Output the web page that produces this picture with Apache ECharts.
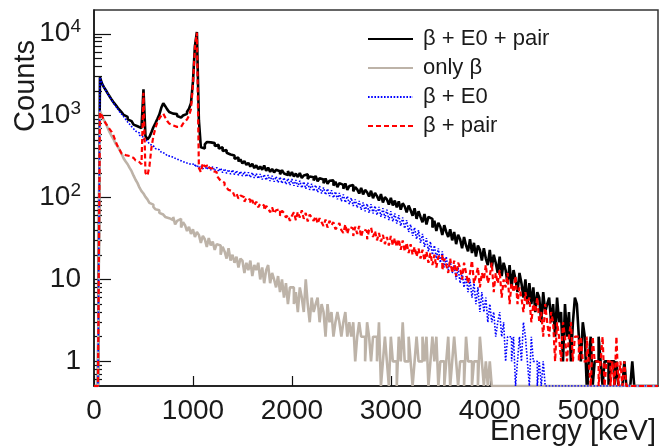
<!DOCTYPE html>
<html><head><meta charset="utf-8">
<script src="https://cdn.jsdelivr.net/npm/echarts@6/dist/echarts.min.js"></script>
<style>html,body{margin:0;padding:0;background:#fff}#c{width:668px;height:448px}</style>
</head><body><div id="c"></div>
<script>
// ---- data (20 keV bins, first bin starts at 0 keV) ----
const binWidth = 20;
const seriesNames = ['β + E0 + pair', 'only β', 'β + E0', 'β + pair'];
const xTickValues = [0, 1000, 2000, 3000, 4000, 5000];
const yTickValues = [1, 10, 100, 1000, 10000];

const countsBetaE0Pair = [
  0, 0, 0, 2950, 2480, 2230, 2040, 1860, 1700, 1560,
  1440, 1345, 1245, 1170, 1095, 1020, 965, 900, 858, 812,
  778, 742, 722, 704, 688, 2100, 566, 512, 548, 626,
  722, 806, 908, 1032, 1245, 1420, 1305, 1192, 1108, 1058,
  1022, 1046, 988, 948, 968, 1004, 1052, 1118, 1212, 1415,
  2600, 7100, 10500, 880, 410, 398, 446, 476, 472, 458,
  462, 425, 441, 396, 410, 369, 381, 352, 336, 330,
  326, 298, 309, 276, 292, 262, 278, 250, 266, 239,
  258, 229, 247, 222, 240, 218, 246, 212, 232, 206,
  224, 203, 218, 209, 192, 216, 197, 189, 211, 184,
  205, 181, 196, 178, 199, 173, 186, 192, 168, 181,
  177, 161, 184, 158, 172, 166, 150, 171, 147, 160,
  162, 140, 156, 134, 150, 143, 128, 149, 124, 138,
  142, 119, 134, 126, 112, 131, 109, 124, 116, 103,
  121, 98, 114, 104, 92, 110, 87, 101, 95, 82,
  99, 80, 92, 76, 90, 71, 85, 78, 66, 80,
  70, 60, 74, 55, 68, 58, 50, 63, 47, 58,
  55, 43, 52, 39, 49, 44, 35, 46, 38, 33,
  41, 30, 38, 27, 35, 31, 24, 33, 26, 22,
  31, 21, 28, 19, 26, 23, 17, 24, 18, 15,
  23, 14, 20, 16, 12, 19, 11, 16, 13, 9,
  15, 8, 13, 10, 7, 12, 9, 6, 10, 5,
  9, 5, 8, 4, 7, 6, 3, 7, 4, 5,
  6, 3, 5, 2, 6, 3, 4, 1, 5, 2,
  4, 1, 3, 6, 5, 2, 1, 3, 2, 0,
  1, 2, 0, 1, 1, 2, 1, 0, 1, 1,
  0, 1, 1, 0, 1, 0, 0, 0, 1, 0,
  0, 0, 1
];

const countsOnlyBeta = [
  0, 0, 0, 1150, 1000, 880, 800, 700, 620, 560,
  510, 450, 420, 380, 340, 300, 275, 255, 230, 210,
  185, 165, 150, 132, 120, 112, 102, 95, 86, 82,
  77, 72, 70, 65, 62, 63, 58, 56, 55, 53,
  58, 47, 52, 55, 43, 50, 46, 39, 44, 36,
  41, 33, 38, 35, 28, 34, 31, 25, 32, 26,
  29, 23, 27, 26, 20, 25, 22, 18, 24, 17,
  20, 16, 19, 14, 18, 17, 12, 16, 13, 17,
  11, 15, 13, 16, 10, 14, 9, 13, 15, 9,
  12, 10, 8, 11, 7, 10, 6, 9, 5, 8,
  8, 5, 7, 4, 8, 6, 4, 10, 5, 3,
  6, 4, 5, 6, 3, 5, 4, 2, 5, 3,
  4, 2, 3, 4, 3, 2, 3, 4, 2, 3,
  2, 3, 1, 2, 3, 2, 2, 1, 3, 2,
  1, 2, 2, 1, 3, 0, 1, 2, 1, 0,
  2, 1, 1, 0, 2, 1, 3, 1, 1, 2,
  1, 0, 1, 2, 1, 1, 2, 1, 2, 0,
  1, 2, 1, 2, 0, 1, 1, 0, 1, 2,
  0, 1, 2, 1, 0, 1, 1, 0, 2, 1,
  1, 0, 1, 1, 0, 2, 1, 0, 1, 0,
  1
];

const countsBetaE0 = [
  0, 0, 0, 2950, 2480, 2230, 2030, 1840, 1680, 1540,
  1410, 1300, 1205, 1110, 1040, 972, 902, 838, 786, 734,
  692, 648, 614, 576, 547, 514, 492, 466, 450, 428,
  414, 396, 384, 368, 358, 344, 338, 324, 319, 306,
  302, 292, 288, 278, 275, 266, 264, 255, 254, 247,
  258, 236, 251, 229, 246, 224, 247, 220, 240, 217,
  239, 212, 233, 208, 229, 201, 225, 197, 220, 193,
  218, 190, 213, 187, 209, 183, 207, 179, 203, 176,
  202, 173, 197, 170, 194, 166, 191, 163, 188, 159,
  185, 156, 181, 152, 178, 149, 175, 145, 171, 142,
  168, 139, 164, 135, 160, 131, 156, 128, 152, 124,
  147, 120, 142, 116, 138, 112, 133, 108, 128, 104,
  123, 99, 118, 95, 114, 90, 109, 87, 104, 83,
  99, 79, 95, 75, 91, 71, 87, 68, 84, 65,
  83, 64, 79, 61, 77, 58, 74, 56, 71, 53,
  68, 51, 64, 48, 61, 45, 57, 42, 53, 38,
  47, 34, 43, 31, 40, 28, 36, 25, 32, 22,
  29, 20, 26, 18, 24, 16, 22, 14, 19, 13,
  17, 12, 15, 10, 14, 9, 12, 8, 11, 7,
  10, 6, 9, 5, 8, 4, 7, 4, 6, 3,
  5, 3, 4, 2, 3, 4, 2, 3, 1, 2,
  2, 1, 2, 0, 1, 2, 1, 3, 2, 1,
  0, 2, 1, 1, 0, 1, 0, 1
];

const countsBetaPair = [
  0, 0, 0, 1100, 1000, 880, 800, 740, 680, 630,
  560, 480, 420, 380, 342, 330, 318, 322, 310, 305,
  296, 284, 270, 262, 255, 1900, 200, 185, 240, 400,
  560, 700, 830, 920, 1000, 1060, 950, 860, 800, 760,
  740, 730, 720, 730, 760, 800, 850, 900, 1000, 1200,
  2400, 6800, 10300, 230, 205, 262, 240, 250, 232, 225,
  210, 205, 185, 172, 160, 152, 140, 132, 124, 120,
  122, 104, 112, 97, 106, 101, 89, 99, 94, 85,
  93, 80, 89, 76, 84, 80, 70, 79, 74, 66,
  76, 64, 70, 72, 60, 69, 65, 57, 61, 52,
  60, 66, 53, 67, 57, 70, 55, 65, 51, 62,
  57, 52, 59, 48, 56, 50, 45, 54, 43, 52,
  46, 50, 41, 44, 49, 40, 37, 47, 36, 44,
  42, 34, 44, 36, 45, 33, 41, 39, 31, 40,
  43, 33, 39, 30, 37, 29, 35, 27, 33, 26,
  34, 26, 32, 25, 31, 23, 30, 22, 28, 21,
  27, 20, 25, 19, 24, 18, 23, 17, 22, 16,
  21, 15, 20, 14, 19, 20, 13, 18, 15, 12,
  18, 12, 17, 11, 16, 14, 10, 16, 12, 9,
  12, 17, 9, 11, 14, 8, 12, 10, 15, 9,
  11, 16, 7, 12, 9, 13, 6, 10, 8, 12,
  5, 9, 7, 11, 5, 8, 6, 4, 7, 5,
  6, 3, 5, 4, 6, 3, 4, 2, 5, 3,
  2, 4, 3, 1, 3, 2, 1, 3, 2, 1,
  2, 3, 1, 2, 2, 1, 2, 1, 1, 2,
  1, 0, 2, 1, 1, 0, 1, 2, 0, 1,
  1, 0, 1, 0, 2, 0, 1, 0, 1
];

// ---- build ----
const X_MIN = 0, X_MAX = 5700, Y_MIN = 0.5, Y_MAX = 19500;
const FONT = '"Liberation Sans", Arial, Helvetica, sans-serif';

function histPoints(arr) {
  const pts = [];
  for (let i = 0; i < arr.length; i++) {
    pts.push([i * binWidth, arr[i] > 0 ? arr[i] : Y_MIN]);
  }
  pts.push([arr.length * binWidth, Y_MIN]);
  pts.push([X_MAX, Y_MIN]);
  return pts;
}

const minorY = [];
[0.1, 1, 10, 100, 1000].forEach(d => {
  for (let k = 2; k <= 9; k++) {
    const v = +(d * k).toPrecision(3);
    if (v > Y_MIN && v < Y_MAX) minorY.push(v);
  }
});

const colors = ['#000000', '#bdb3a8', '#0000ff', '#ff0000'];
const lineStyles = [
  { color: colors[0], width: 2.6, type: 'solid' },
  { color: colors[1], width: 2.6, type: 'solid' },
  { color: colors[2], width: 1.6, type: [1.6, 1.6] },
  { color: colors[3], width: 2.2, type: [5, 3] }
];
const allCounts = [countsBetaE0Pair, countsOnlyBeta, countsBetaE0, countsBetaPair];

const series = allCounts.map((arr, k) => ({
  name: seriesNames[k],
  type: 'line',
  step: 'end',
  data: histPoints(arr),
  showSymbol: false,
  symbol: 'none',
  clip: true,
  lineStyle: lineStyles[k],
  itemStyle: { color: colors[k] },
  emphasis: { disabled: true },
  z: 2 + k
}));

const chart = echarts.init(document.getElementById('c'), null, { renderer: 'canvas' });
chart.setOption({
  animation: false,
  backgroundColor: '#ffffff',
  textStyle: { fontFamily: FONT },
  grid: {
    left: 94, right: 10, top: 10, bottom: 62,
    show: true, borderColor: '#333', borderWidth: 1.5, backgroundColor: 'transparent'
  },
  legend: {
    orient: 'vertical',
    left: 362, top: 23,
    itemWidth: 45, itemHeight: 14, itemGap: 7,
    data: seriesNames,
    itemStyle: { opacity: 0 },
    textStyle: { fontSize: 22, color: '#1a1a1a', fontFamily: FONT, padding: [0, 0, 0, 5] },
    selectedMode: false
  },
  xAxis: {
    type: 'value', min: X_MIN, max: X_MAX, interval: 1000,
    axisLine: { show: true, onZero: false, lineStyle: { color: '#111', width: 1.5 } },
    axisTick: { show: true, inside: true, length: 10, lineStyle: { color: '#111', width: 1.2 }, customValues: xTickValues },
    axisLabel: { fontSize: 28, color: '#1a1a1a', margin: 11, fontFamily: FONT, customValues: xTickValues,
      formatter: v => String(v) },
    splitLine: { show: false }
  },
  yAxis: [{
    type: 'log', min: Y_MIN, max: Y_MAX, logBase: 10,
    axisLine: { show: true, lineStyle: { color: '#111', width: 1.5 } },
    axisTick: { show: true, inside: true, length: 17, lineStyle: { color: '#111', width: 1.2 }, customValues: yTickValues },
    axisLabel: {
      fontSize: 28, color: '#1a1a1a', margin: 13, fontFamily: FONT,
      customValues: yTickValues,
      formatter: v => v < 100 ? String(Math.round(v)) : '{m|10}{e|' + Math.round(Math.log10(v)) + '}',
      rich: {
        m: { fontSize: 28, color: '#1a1a1a', fontFamily: FONT },
        e: { fontSize: 19, color: '#1a1a1a', fontFamily: FONT, padding: [0, 0, 14, 0] }
      }
    },
    splitLine: { show: false }
  }, {
    type: 'log', min: Y_MIN, max: Y_MAX, logBase: 10, position: 'left',
    axisLine: { show: false },
    axisTick: { show: true, inside: true, length: 8, lineStyle: { color: '#111', width: 1.2 }, customValues: minorY },
    axisLabel: { show: false },
    splitLine: { show: false }
  }],
  graphic: [
    { type: 'text', x: 26, y: 40, rotation: Math.PI / 2,
      style: { text: 'Counts', fontSize: 29, fontFamily: FONT, fill: '#1a1a1a', align: 'right', verticalAlign: 'middle' } },
    { type: 'text', x: 656, y: 432,
      style: { text: 'Energy [keV]', fontSize: 29, fontFamily: FONT, fill: '#1a1a1a', align: 'right', verticalAlign: 'middle' } }
  ],
  series: series
});
</script>
</body></html>
